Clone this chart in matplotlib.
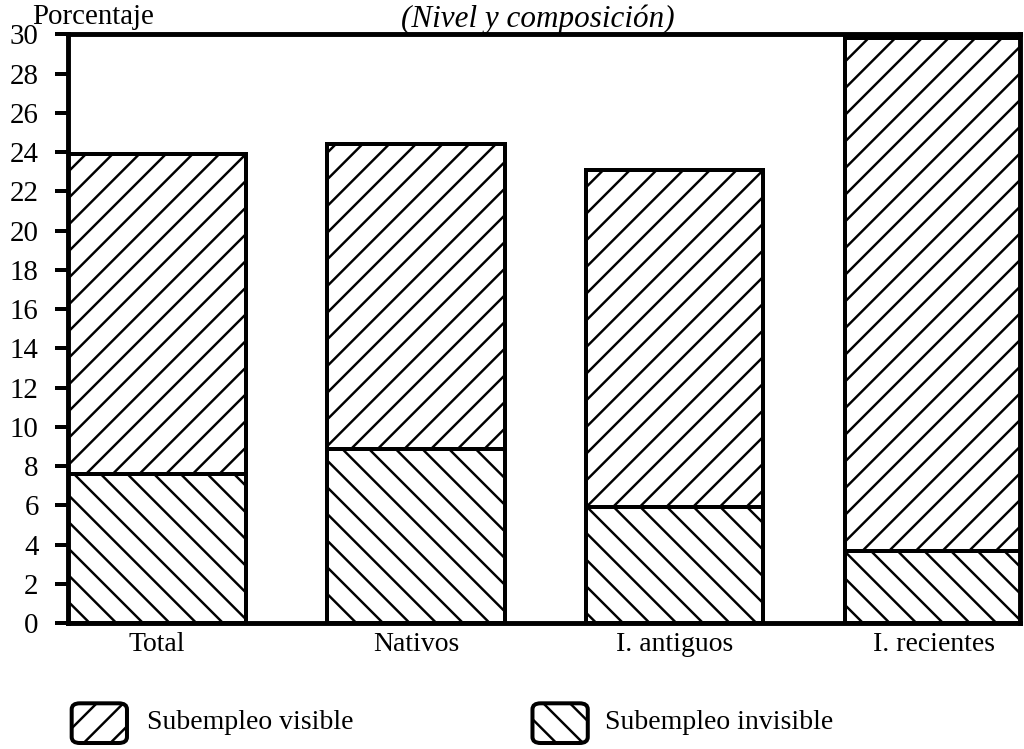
import matplotlib
matplotlib.use('Agg')
import matplotlib.pyplot as plt
from matplotlib.patches import FancyBboxPatch

# data (percent)
categories = ['Total', 'Nativos', 'I. antiguos', 'I. recientes']
invisible = [7.6, 8.9, 5.9, 3.7]
visible = [16.3, 15.5, 17.2, 26.1]
yticks = list(range(0, 31, 2))

plt.rcParams['font.family'] = ['Liberation Serif', 'DejaVu Serif']
plt.rcParams['hatch.linewidth'] = 1.1

fig = plt.figure(figsize=(6.4, 4.68125), dpi=160)
ax = fig.add_axes([0.066, 0.168, 0.93, 0.786])

x = range(len(categories))
w = 0.685
ax.bar(x, invisible, w, facecolor='white', edgecolor='black', linewidth=1.8, hatch='\\\\')
ax.bar(x, visible, w, bottom=invisible, facecolor='white', edgecolor='black',
       linewidth=1.8, hatch='//')

ax.set_xlim(-0.345, 3.333)
ax.set_ylim(0, 30)
ax.set_yticks(yticks)
ax.set_xticks(list(x))
ax.set_xticklabels(categories)
ax.tick_params(axis='y', direction='out', length=6, width=1.8, labelsize=13, pad=7)
ax.tick_params(axis='x', length=0, labelsize=12.5, pad=4)
for s in ax.spines.values():
    s.set_linewidth(2.2)

fig.text(0.031, 0.968, 'Porcentaje', fontsize=13, va='baseline')
fig.text(0.525, 0.964, '(Nivel y composición)', fontsize=14, style='italic',
         ha='center', va='baseline')

# legend boxes
for (x0, hatch, label, tx) in [(0.070, '//', 'Subempleo visible', 0.1435),
                               (0.520, '\\\\', 'Subempleo invisible', 0.591)]:
    box = FancyBboxPatch((x0, 0.008), 0.054, 0.053,
                         boxstyle='round,pad=0,rounding_size=0.008',
                         transform=fig.transFigure, facecolor='white',
                         edgecolor='black', linewidth=1.8, hatch=hatch)
    fig.add_artist(box)
    fig.text(tx, 0.035, label, fontsize=12.5, va='center')

fig.savefig('out.png', dpi=160)
